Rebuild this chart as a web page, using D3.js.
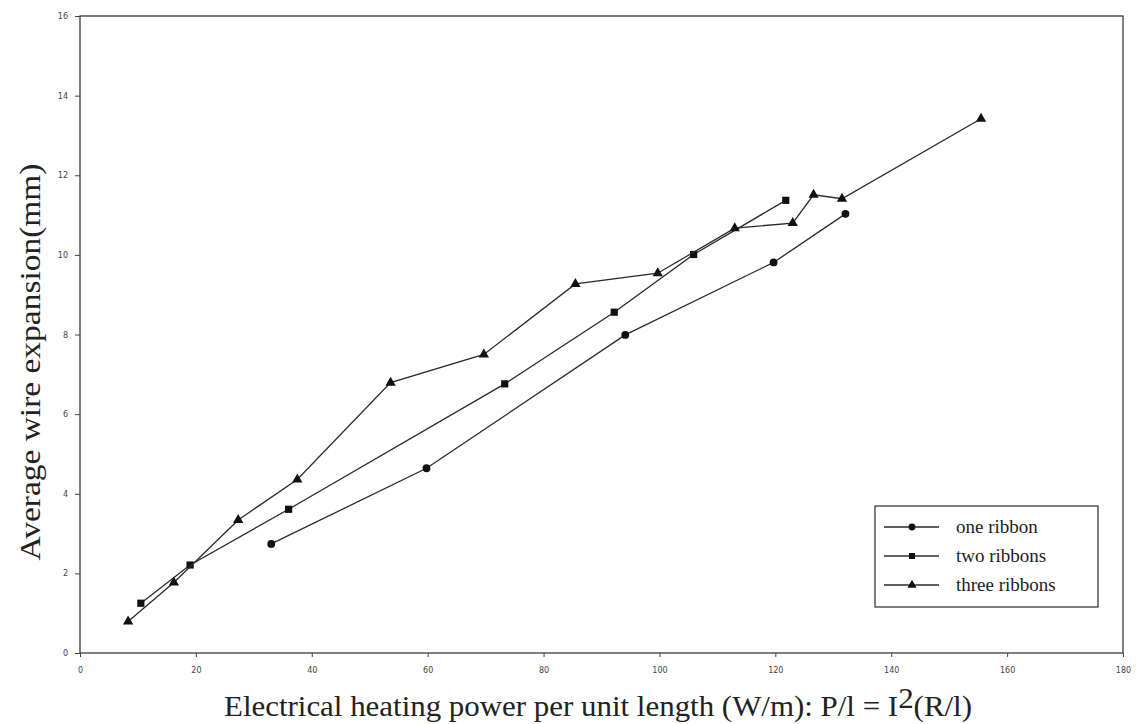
<!DOCTYPE html>
<html>
<head>
<meta charset="utf-8">
<script src="https://cdn.jsdelivr.net/npm/d3@7"></script>
<style>
  html, body { margin: 0; padding: 0; background: #fff; }
  svg { display: block; }
  .tick text { font-family: "DejaVu Sans", sans-serif; font-size: 8px; fill: #444; }
  .tick line { stroke: #444; }
</style>
</head>
<body>
<svg id="chart" width="1137" height="724"></svg>
<script>
// Heating power per unit length (W/m) and wire expansion (mm) for each series
const oneRibbonX = [33.0, 59.8, 94.1, 119.7, 132.1];
const oneRibbonY = [2.74, 4.64, 7.99, 9.81, 11.03];

const twoRibbonsX = [10.5, 19.0, 36.0, 73.3, 92.2, 105.9, 121.8];
const twoRibbonsY = [1.25, 2.21, 3.61, 6.76, 8.56, 10.01, 11.37];

const threeRibbonsX = [8.3, 16.2, 27.3, 37.5, 53.6, 69.7, 85.5, 99.7, 113.0, 123.0, 126.6, 131.5, 155.5];
const threeRibbonsY = [0.79, 1.77, 3.34, 4.36, 6.79, 7.50, 9.27, 9.54, 10.67, 10.80, 11.51, 11.41, 13.42];

const seriesNames = ["one ribbon", "two ribbons", "three ribbons"];
const seriesMarkers = ["circle", "square", "triangle"];

const xTicks = [0, 20, 40, 60, 80, 100, 120, 140, 160, 180];
const yTicks = [0, 2, 4, 6, 8, 10, 12, 14, 16];

const svg = d3.select("#chart");
const plotL = 80, plotR = 1123, plotT = 16, plotB = 653;

const x = d3.scaleLinear().domain([0, 180]).range([plotL, plotR]);
const y = d3.scaleLinear().domain([0, 16]).range([plotB, plotT]);

const ink = "#2a2a2a";
const serif = "'Liberation Serif', 'Times New Roman', serif";

// Plot frame
svg.append("rect")
  .attr("x", plotL).attr("y", plotT)
  .attr("width", plotR - plotL).attr("height", plotB - plotT)
  .attr("fill", "none").attr("stroke", ink).attr("stroke-width", 1.2);

// Axes
svg.append("g")
  .attr("transform", `translate(0,${plotB})`)
  .call(d3.axisBottom(x).tickValues(xTicks).tickSize(4).tickPadding(10))
  .call(g => g.select(".domain").remove());

svg.append("g")
  .attr("transform", `translate(${plotL},0)`)
  .call(d3.axisLeft(y).tickValues(yTicks).tickSize(5).tickPadding(7))
  .call(g => g.select(".domain").remove());

// Axis titles
svg.append("text")
  .attr("transform", "translate(40,362) rotate(-90)")
  .attr("text-anchor", "middle")
  .attr("font-family", serif)
  .attr("font-size", 30)
  .attr("textLength", 397)
  .attr("lengthAdjust", "spacingAndGlyphs")
  .attr("fill", "#222")
  .text("Average wire expansion(mm)");

const xt = svg.append("text")
  .attr("x", 598).attr("y", 716)
  .attr("text-anchor", "middle")
  .attr("font-family", serif)
  .attr("font-size", 29)
  .attr("textLength", 748)
  .attr("lengthAdjust", "spacingAndGlyphs")
  .attr("fill", "#222");
xt.append("tspan").text("Electrical heating power per unit length (W/m): P/l = I");
xt.append("tspan").attr("dy", -8).text("2");
xt.append("tspan").attr("dy", 8).text("(R/l)");

// Series
const series = [
  { name: seriesNames[0], marker: seriesMarkers[0], pts: oneRibbonX.map((v, i) => [v, oneRibbonY[i]]) },
  { name: seriesNames[1], marker: seriesMarkers[1], pts: twoRibbonsX.map((v, i) => [v, twoRibbonsY[i]]) },
  { name: seriesNames[2], marker: seriesMarkers[2], pts: threeRibbonsX.map((v, i) => [v, threeRibbonsY[i]]) }
];

const symbolType = { circle: d3.symbolCircle, square: d3.symbolSquare, triangle: d3.symbolTriangle };
const symbolSize = { circle: 48, square: 52, triangle: 46 };

const line = d3.line().x(d => x(d[0])).y(d => y(d[1]));

series.forEach(s => {
  svg.append("path")
    .attr("d", line(s.pts))
    .attr("fill", "none")
    .attr("stroke", ink)
    .attr("stroke-width", 1.3);
  svg.append("g").selectAll("path")
    .data(s.pts)
    .join("path")
    .attr("transform", d => `translate(${x(d[0])},${y(d[1])})`)
    .attr("d", d3.symbol().type(symbolType[s.marker]).size(symbolSize[s.marker]))
    .attr("fill", "#111");
});

// Legend
const lg = svg.append("g");
lg.append("rect")
  .attr("x", 875).attr("y", 506).attr("width", 223).attr("height", 101)
  .attr("fill", "#fff").attr("stroke", ink).attr("stroke-width", 1.2);
series.forEach((s, i) => {
  const ly = 527 + i * 29;
  lg.append("line")
    .attr("x1", 884).attr("x2", 939).attr("y1", ly).attr("y2", ly)
    .attr("stroke", ink).attr("stroke-width", 1.3);
  lg.append("path")
    .attr("transform", `translate(912,${ly})`)
    .attr("d", d3.symbol().type(symbolType[s.marker]).size(36))
    .attr("fill", "#111");
  lg.append("text")
    .attr("x", 956).attr("y", ly + 6)
    .attr("font-family", serif)
    .attr("font-size", 19)
    .attr("fill", "#222")
    .text(s.name);
});
</script>
</body>
</html>
